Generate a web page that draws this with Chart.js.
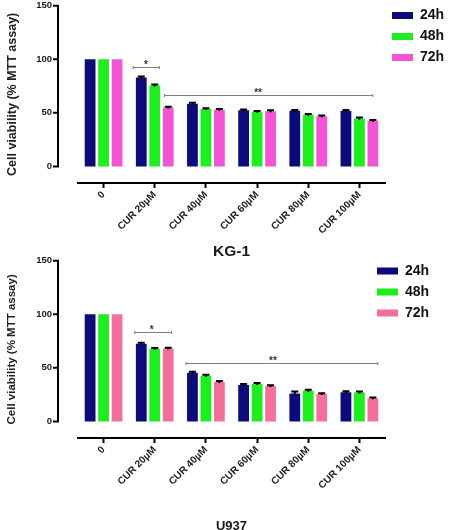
<!DOCTYPE html>
<html><head><meta charset="utf-8">
<script src="https://cdn.jsdelivr.net/npm/chart.js@4.4.1/dist/chart.umd.min.js"></script>
<style>
html,body{margin:0;padding:0;background:#fff;width:450px;height:530px;overflow:hidden;}
#c1{position:absolute;left:0;top:0;}
#c2{position:absolute;left:0;top:255px;}
</style></head><body>
<canvas id="c1" width="450" height="265"></canvas>
<canvas id="c2" width="450" height="280"></canvas>
<script>
// ---- data ----
const categories = ['0', 'CUR 20µM', 'CUR 40µM', 'CUR 60µM', 'CUR 80µM', 'CUR 100µM'];
const seriesNames = ['24h', '48h', '72h'];
const yTicks = [0, 50, 100, 150];
const yTitle = 'Cell viability (% MTT assay)';

const kg1Title = 'KG-1';
const kg1_24h = [100, 83, 58.5, 52.3, 52, 51.8];
const kg1_48h = [100, 75.5, 53.5, 51, 48.3, 44.6];
const kg1_72h = [100, 55, 52.8, 51.5, 46.8, 42.6];
const kg1_err24 = [0, 1, 1, 0.7, 0.7, 0.8];
const kg1_err48 = [0, 1, 0.7, 0.7, 0.7, 1];
const kg1_err72 = [0, 0.7, 0.7, 1, 0.7, 0.7];
// significance brackets: [from category, to category, value, label, label position]
const kg1_sig = [[0.58, 1.09, 92.8, '*', 0.83], [1.19, 5.26, 66.7, '**', 3.02]];

const u937Title = 'U937';
const u937_24h = [100, 72.5, 45.5, 34, 26, 27.3];
const u937_48h = [100, 67.8, 42.6, 34.8, 28.6, 27];
const u937_72h = [100, 68, 36.8, 33, 25.5, 21.7];
const u937_err24 = [0, 1, 0.8, 0.8, 2, 0.8];
const u937_err48 = [0, 0.8, 1, 1, 1, 1];
const u937_err72 = [0, 0.8, 0.8, 0.8, 0.7, 0.7];
const u937_sig = [[0.61, 1.33, 83.5, '*', 0.94], [1.61, 5.36, 54.5, '**', 3.31]];

// ---- plugins ----
const FAMILY = '"Liberation Sans", Arial, sans-serif';

const yAxisLine = {
  id: 'yAxisLine',
  afterDraw(chart, args, opts) {
    const ys = chart.scales.y, ctx = chart.ctx;
    const x = chart.chartArea.left - opts.offset;
    ctx.save();
    ctx.strokeStyle = '#000'; ctx.lineWidth = 2; ctx.lineCap = 'square';
    ctx.beginPath();
    ctx.moveTo(x, ys.getPixelForValue(yTicks[0]));
    ctx.lineTo(x, ys.getPixelForValue(yTicks[yTicks.length - 1]));
    yTicks.forEach(t => { const py = ys.getPixelForValue(t); ctx.moveTo(x - 4, py); ctx.lineTo(x, py); });
    ctx.stroke();
    ctx.restore();
  }
};

const errorBars = {
  id: 'errorBars',
  afterDatasetsDraw(chart) {
    const ctx = chart.ctx, ys = chart.scales.y;
    chart.data.datasets.forEach((ds, i) => {
      const meta = chart.getDatasetMeta(i);
      meta.data.forEach((bar, j) => {
        const e = ds.errors[j];
        if (!e) return;
        const top = ys.getPixelForValue(ds.data[j] + e);
        ctx.save();
        ctx.strokeStyle = '#000'; ctx.lineWidth = 2;
        ctx.beginPath();
        ctx.moveTo(bar.x, bar.y + 1); ctx.lineTo(bar.x, top);
        ctx.moveTo(bar.x - 3.5, top); ctx.lineTo(bar.x + 3.5, top);
        ctx.stroke();
        ctx.restore();
      });
    });
  }
};

const sigBrackets = {
  id: 'sigBrackets',
  afterDatasetsDraw(chart, args, opts) {
    const xs = chart.scales.x, ys = chart.scales.y, ctx = chart.ctx;
    (opts.items || []).forEach(([from, to, value, label, at]) => {
      const x1 = xs.getPixelForValue(from), x2 = xs.getPixelForValue(to), y = Math.round(ys.getPixelForValue(value)) + 0.5;
      ctx.save();
      ctx.strokeStyle = '#7d7d7d'; ctx.lineWidth = 1;
      ctx.beginPath();
      ctx.moveTo(x1, y); ctx.lineTo(x2, y);
      ctx.moveTo(x1, y - 1.5); ctx.lineTo(x1, y + 1.5);
      ctx.moveTo(x2, y - 1.5); ctx.lineTo(x2, y + 1.5);
      ctx.stroke();
      ctx.fillStyle = '#333';
      ctx.font = 'bold 10px ' + FAMILY;
      ctx.textAlign = 'center'; ctx.textBaseline = 'alphabetic';
      ctx.fillText(label, xs.getPixelForValue(at), y + 0.5);
      ctx.restore();
    });
  }
};

const legendShift = {
  id: 'legendShift',
  afterLayout(chart, args, opts) {
    const lg = chart.legend;
    if (!lg) return;
    lg.left += opts.dx || 0; lg.right += opts.dx || 0;
    lg.top += opts.dy || 0; lg.bottom += opts.dy || 0;
  }
};

// ---- chart builder ----
function makeChart(id, title, d24, d48, d72, e24, e48, e72, colors, sig, cfg) {
  const series = [d24, d48, d72], errs = [e24, e48, e72];
  return new Chart(document.getElementById(id), {
    type: 'bar',
    data: {
      labels: categories,
      datasets: seriesNames.map((n, i) => ({
        label: n, data: series[i], errors: errs[i],
        backgroundColor: colors[i], borderWidth: 0,
        barPercentage: 0.8, categoryPercentage: 0.79
      }))
    },
    plugins: [yAxisLine, errorBars, sigBrackets, legendShift],
    options: {
      responsive: false, animation: false, devicePixelRatio: 1,
      layout: { padding: 0 },
      plugins: {
        legend: {
          position: 'right', align: 'start', maxWidth: 65,
          labels: { boxWidth: 21, boxHeight: 7, padding: 7, color: '#111',
            font: { family: FAMILY, weight: 'bold', size: 14 } }
        },
        tooltip: { enabled: false },
        yAxisLine: { offset: 20 },
        sigBrackets: { items: sig },
        legendShift: { dx: cfg.legendDx, dy: cfg.legendDy }
      },
      scales: {
        x: {
          offset: true,
          grid: { display: true, drawOnChartArea: false, drawTicks: true, tickLength: 5, tickWidth: 2, tickColor: '#000', offset: false },
          border: { display: true, color: '#000', width: 2 },
          ticks: { autoSkip: false, maxRotation: 45, minRotation: 45, padding: 1, color: '#1a1a1a',
            font: { family: FAMILY, weight: 'bold', size: 10 } },
          title: { display: true, text: title, color: '#1a1a1a',
            font: { family: FAMILY, weight: 'bold', size: cfg.titleSize },
            padding: { top: 0, bottom: cfg.titlePad } },
          afterFit(s) { s.height = cfg.xHeight; }
        },
        y: {
          min: -15.5, max: 150,
          afterBuildTicks(s) { s.ticks = yTicks.map(v => ({ value: v })); },
          grid: { display: false, drawTicks: true, tickLength: 26 },
          border: { display: false },
          ticks: { padding: 0, color: '#1a1a1a', font: { family: FAMILY, weight: 'bold', size: 9.5 } },
          title: { display: true, text: yTitle, color: '#222',
            font: { family: FAMILY, weight: 'bold', size: cfg.yTitleSize },
            padding: { top: 5, bottom: 0 } },
          afterFit(s) { s.width = 78; }
        }
      }
    }
  });
}

makeChart('c1', kg1Title, kg1_24h, kg1_48h, kg1_72h, kg1_err24, kg1_err48, kg1_err72,
  ['#0b0b7c', '#1cf01c', '#f553d6'], kg1_sig,
  { titleSize: 15.5, titlePad: 4, xHeight: 82, yTitleSize: 12.5, legendDx: 0, legendDy: 1.5 });

makeChart('c2', u937Title, u937_24h, u937_48h, u937_72h, u937_err24, u937_err48, u937_err72,
  ['#0b0b7c', '#1cf01c', '#f56f9c'], u937_sig,
  { titleSize: 13, titlePad: 1, xHeight: 97, yTitleSize: 11.5, legendDx: -15, legendDy: 2 });
</script>
</body></html>
